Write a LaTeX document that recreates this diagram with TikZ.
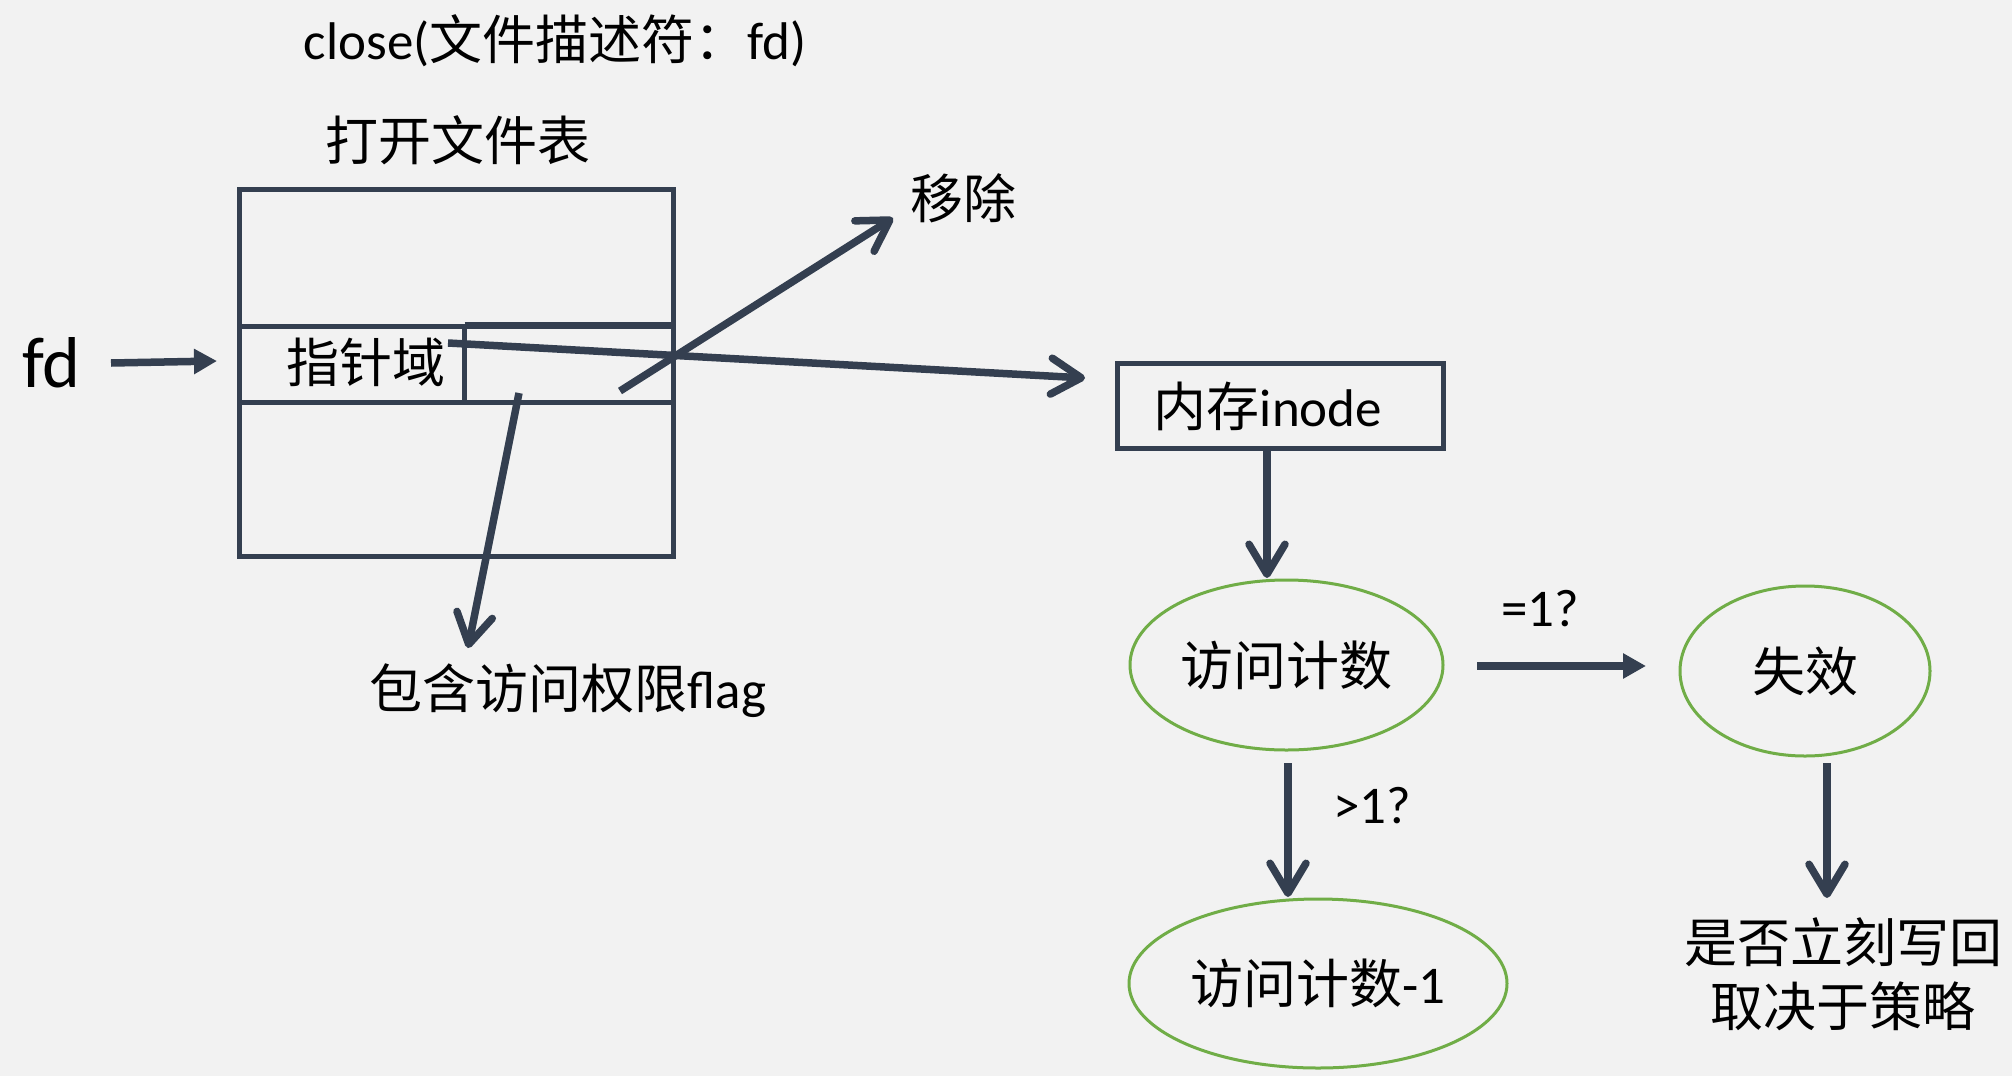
\documentclass[tikz,border=0pt]{standalone}
\usepackage{fontspec}
\setmainfont{Carlito}
\newfontfamily\zhfont{Noto Sans CJK SC}
\newcommand{\zh}[1]{{\zhfont #1}}
\usetikzlibrary{arrows.meta,shapes.geometric}
\definecolor{linec}{RGB}{52,63,80}
\definecolor{greenc}{RGB}{112,173,71}
\definecolor{bgc}{RGB}{242,242,242}
\begin{document}
\begin{tikzpicture}[x=1pt,y=-1pt,
  txt/.style={inner sep=0pt, font=\fontsize{53}{64}\selectfont, align=center, text=black},
  tblline/.style={draw=linec, line width=5pt},
  boxnode/.style={draw=linec, line width=5pt, inner sep=0pt, outer sep=0pt},
  conn/.style={draw=linec, line width=7.5pt, -{Straight Barb[length=30pt,width=36pt,round]}},
  tconn/.style={draw=linec, line width=7.5pt, -{Triangle[length=23pt,width=24pt]}},
  oval/.style={ellipse, draw=greenc, line width=3pt, inner sep=0pt, outer sep=0pt, font=\fontsize{53}{64}\selectfont, text=black}
]
\fill[bgc] (0,0) rectangle (2012,1076);
\useasboundingbox (0,0) rectangle (2012,1076);

% texts
\node[txt] (title) at (555,41) {close(\zh{文件描述符：}fd)};
\node[txt] (hdr) at (458,140) {\zh{打开文件表}};
\node[txt] (remove) at (963,198) {\zh{移除}};
\node[inner sep=0pt, font=\fontsize{72}{84}\selectfont] (fd) at (51,363) {fd};

% open file table
\node[boxnode, minimum width=433.5pt, minimum height=367pt] (table) at (456.25,373) {};
\draw[tblline] (239.5,326) -- (673,326);
\draw[tblline] (239.5,402.5) -- (673,402.5);
\draw[tblline] (464.5,324) -- (673,324);
\draw[tblline] (464.5,326) -- (464.5,402.5);
\node[txt] (ptr) at (366,362) {\zh{指针域}};

\node[txt] (flag) at (568,691) {\zh{包含访问权限}flag};

% inode box
\node[boxnode, minimum width=326pt, minimum height=85pt] (inode) at (1280,405.5) {};
\node[txt] (inodet) at (1268,406) {\zh{内存}inode};

% ellipses
\node[oval, minimum width=313pt, minimum height=170pt] (cnt) at (1286.5,665) {\zh{访问计数}};
\node[oval, minimum width=250pt, minimum height=170pt] (inv) at (1805,671) {\zh{失效}};
\node[oval, minimum width=378pt, minimum height=169pt] (cntm) at (1318,983.5) {\zh{访问计数}-1};

\node[txt] (eq) at (1540,609) {=1?};
\node[txt] (gt) at (1372,806) {>1?};
\node[txt] (policy) at (1843,974) {\zh{是否立刻写回}\\\zh{取决于策略}};

% connector end points
\coordinate (fdS) at (111,363);
\coordinate (fdE) at (217,361);
\coordinate (ptrS) at (448,343);
\coordinate (ptrE) at (1085,378);
\coordinate (remS) at (620,391);
\coordinate (remE) at (893,218);
\coordinate (flagS) at (519,393);
\coordinate (flagE) at (468,648);
\coordinate (inoS) at (1267,448);
\coordinate (inoE) at (1267,578);
\coordinate (eqS) at (1477,666);
\coordinate (eqE) at (1646,666);
\coordinate (gtS) at (1288,763);
\coordinate (gtE) at (1288,897);
\coordinate (invS) at (1827,763);
\coordinate (invE) at (1827,898);

% connectors
\draw[tconn] (fdS) -- (fdE);
\draw[conn] (ptrS) -- (ptrE);
\draw[conn] (remS) -- (remE);
\draw[conn] (flagS) -- (flagE);
\draw[conn] (inoS) -- (inoE);
\draw[tconn] (eqS) -- (eqE);
\draw[conn] (gtS) -- (gtE);
\draw[conn] (invS) -- (invE);
\end{tikzpicture}
\end{document}
